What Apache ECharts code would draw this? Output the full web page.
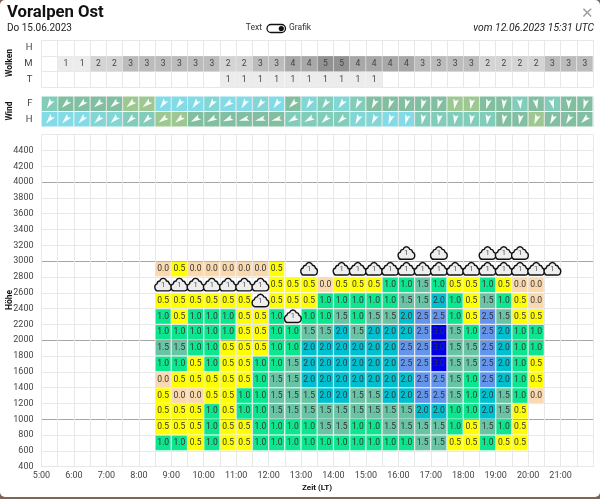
<!DOCTYPE html>
<html>
<head>
<meta charset="utf-8">
<title>Voralpen Ost</title>
<script src="https://cdn.jsdelivr.net/npm/echarts@6/dist/echarts.min.js"></script>
<style>
  html, body { margin: 0; padding: 0; background: #7d6455; }
  #chart { width: 600px; height: 497px; background: #fff; border-radius: 5px; overflow: hidden; }
</style>
</head>
<body>
<div id="chart"></div>
<script>
// half hour columns, column 0 starts at 5:00
const FONT = 'Roboto';
const cloudRowNames = ['H', 'M', 'T'];
const cloudH = [];
const cloudM = [0, 1, 1, 2, 2, 3, 3, 3, 3, 3, 3, 2, 2, 3, 3, 4, 4, 5, 5, 4, 4, 4, 4, 3, 3, 3, 3, 2, 2, 2, 2, 3, 3, 3];
const cloudT = [0, 0, 0, 0, 0, 0, 0, 0, 0, 0, 0, 1, 1, 1, 1, 1, 1, 1, 1, 1, 1, 0, 0, 0, 0, 0, 0, 0, 0, 0, 0, 0, 0, 0];
const cloudColors = { 1: '#ececec', 2: '#d4d4d4', 3: '#bcbcbc', 4: '#a8a8a8', 5: '#929292' };

const windRowNames = ['F', 'H'];
const windDirF = [210, 225, 228, 230, 228, 230, 230, 215, 215, 215, 215, 235, 210, 215, 215, 225, 210, 215, 215, 205, 205, 200, 195, 195, 195, 190, 190, 195, 185, 175, 170, 165, 180, 195];
const windDirH = [220, 222, 222, 225, 225, 225, 225, 235, 230, 240, 240, 245, 255, 255, 255, 240, 240, 225, 225, 205, 205, 200, 195, 190, 190, 188, 188, 188, 190, 190, 200, 205, 210, 225];
const windClassF = [2, 3, 3, 3, 3, 4, 4, 0, 0, 0, 1, 0, 0, 1, 0, 3, 1, 2, 1, 2, 3, 3, 3, 3, 3, 4, 4, 3, 3, 2, 3, 2, 3, 3];
const windClassH = [0, 0, 0, 1, 1, 2, 2, 4, 4, 3, 3, 3, 3, 3, 3, 2, 2, 2, 2, 1, 1, 0, 0, 2, 2, 2, 2, 2, 3, 3, 4, 3, 3, 3];
const windColors = ['#82dbe6', '#82d6d6', '#82ccba', '#82bea0', '#9ec892'];

// climb rates, first value is column 7 (8:30)
const firstCol = 7;
const cells2800 = [0, .5, 0, 0, 0, 0, 0, .5];
const cells2600 = [null, null, null, null, null, null, null, .5, .5, .5, 0, .5, .5, .5, 1, 1, 1.5, 1, .5, .5, 1, .5, 0, 0];
const cells2400 = [.5, .5, .5, .5, .5, .5, null, .5, .5, .5, 1, 1, 1, 1, 1, 1.5, 1.5, 2, 1, .5, 1.5, 1, .5, 0];
const cells2200 = [1, .5, 1, 1, 1, .5, .5, 1, null, 1, 1, 1.5, 1, 1.5, 1.5, 2, 2.5, 2.5, 1, .5, 2.5, 1.5, .5, .5];
const cells2000 = [1, 1, 1, 1, 1, .5, .5, 1, 1, 1.5, 1.5, 2, 1.5, 2, 2, 2, 2.5, 3, 1.5, 1, 2.5, 2, 1, 1];
const cells1800 = [1.5, 1.5, 1, 1, .5, .5, .5, 1, 1, 2, 2, 2, 2, 2, 2, 2.5, 2.5, 3, 1.5, 1.5, 2.5, 2, 1, 1];
const cells1600 = [1, 1, .5, 1, .5, .5, 1, 1, 1.5, 2, 2, 2, 2, 2, 2, 2.5, 2.5, 3, 1.5, 1.5, 2.5, 2, 1, .5];
const cells1400 = [0, .5, .5, .5, .5, .5, 1, 1.5, 1.5, 2, 2, 2, 2, 2, 2, 2, 2.5, 2.5, 1.5, 1, 2.5, 2, 1, .5];
const cells1200 = [.5, 0, 0, .5, .5, 1, 1, 1.5, 1.5, 1.5, 2, 2, 1.5, 1.5, 2, 2, 2.5, 2.5, 1.5, 1, 2, 1.5, 1, 0];
const cells1000 = [.5, .5, .5, 1, .5, 1, 1, 1.5, 1.5, 1.5, 1.5, 1.5, 1.5, 1.5, 1.5, 1.5, 2, 2, 1, 1, 2, 1.5, .5];
const cells800 = [.5, .5, .5, 1, .5, .5, 1, 1, 1, 1, 1.5, 1.5, 1, 1, 1.5, 1.5, 1.5, 1.5, 1, .5, 1.5, 1, .5];
const cells600 = [1, 1, .5, 1, .5, .5, 1, 1, 1, 1, 1, 1, 1, 1, 1, 1, 1.5, 1.5, .5, .5, 1, .5, .5];
const cellRows = { 2800: cells2800, 2600: cells2600, 2400: cells2400, 2200: cells2200, 2000: cells2000, 1800: cells1800, 1600: cells1600, 1400: cells1400, 1200: cells1200, 1000: cells1000, 800: cells800, 600: cells600 };
const cellColors = { 0: '#fbd9ae', 0.5: '#ffff00', 1: '#0ce68f', 1.5: '#68c4a4', 2: '#00c0d0', 2.5: '#6495ed', 3: '#0000e6' };

// cumulus symbols, [height, columns]
const cloud3000 = [22, 24, 27, 28, 29];
const cloud2800 = [16, 18, 19, 20, 21, 22, 23, 24, 25, 26, 27, 28, 29, 30, 31];
const cloud2600 = [7, 8, 9, 10, 11, 12, 13];
const cloud2400 = [13];
const cloud2200 = [15];
const cloudRows = { 3000: cloud3000, 2800: cloud2800, 2600: cloud2600, 2400: cloud2400, 2200: cloud2200 };

const colTime = c => 5 + c / 2;

const panelData = [];
[cloudH, cloudM, cloudT].forEach((row, r) => row.forEach((v, c) => { if (v) panelData.push([colTime(c), r, v]); }));
const windData = [];
[[windDirF, windClassF], [windDirH, windClassH]].forEach((w, r) => w[0].forEach((d, c) => windData.push([colTime(c), r, d, w[1][c]])));
const cellData = [];
Object.keys(cellRows).forEach(h => cellRows[h].forEach((v, i) => { if (v !== null) cellData.push([colTime(firstCol + i), +h, v]); }));
const symbolData = [];
Object.keys(cloudRows).forEach(h => cloudRows[h].forEach(c => symbolData.push([colTime(c), +h])));

const CLOUD_PATH = 'M5 17H19A4.2 4.2 0 0 0 20.5 8.8A4 4 0 0 0 16.6 5.6A5 5 0 0 0 7.4 5.6A4 4 0 0 0 3.5 8.8A4.2 4.2 0 0 0 5 17Z';
const ARROW = [[0, 7], [-3.4, -6], [0.2, -3.4], [3.7, -6]];

// rect spanning one half hour and one row
const cellBox = (api, t, y, h) => {
  const a = api.coord([t, y + h / 2]);
  const s = api.size([0.5, h]);
  return { cx: a[0] + s[0] / 2, cy: a[1], w: s[0], h: s[1] };
};

const renderCell = (params, api) => {
  const v = api.value(2);
  const b = cellBox(api, api.value(0), api.value(1), 200);
  return {
    type: 'group',
    children: [
      { type: 'rect', shape: { x: b.cx - b.w / 2 + 0.6, y: b.cy - b.h / 2 + 0.6, width: b.w - 1.2, height: b.h - 1.2 }, style: { fill: cellColors[v] } },
      { type: 'text', style: { x: b.cx, y: b.cy, text: v.toFixed(1), align: 'center', verticalAlign: 'middle', font: '8.5px ' + FONT, fill: '#333' } }
    ]
  };
};

const renderSymbol = (params, api) => {
  const b = cellBox(api, api.value(0), api.value(1), 200);
  return {
    type: 'group',
    children: [
      { type: 'path', shape: { pathData: CLOUD_PATH, x: b.cx - 8.3, y: b.cy - 6.5, width: 16.6, height: 12.5, layout: 'cover' }, style: { fill: '#eeeeee', stroke: '#111', lineWidth: 1.4 } },
      { type: 'text', style: { x: b.cx, y: b.cy, text: '1', align: 'center', verticalAlign: 'middle', font: '7.5px ' + FONT, fill: '#555' } }
    ]
  };
};

const bandBox = (api, t, r) => {
  const a = api.coord([t, r]);
  const s = api.size([0.5, 1]);
  return { cx: a[0] + s[0] / 2, cy: a[1], w: s[0], h: s[1] };
};

const renderPanel = (params, api) => {
  const b = bandBox(api, api.value(0), api.value(1));
  const v = api.value(2);
  return {
    type: 'group',
    children: [
      { type: 'rect', shape: { x: b.cx - b.w / 2 + 0.3, y: b.cy - b.h / 2 + 0.3, width: b.w - 0.6, height: b.h - 0.6 }, style: { fill: cloudColors[v] } },
      { type: 'text', style: { x: b.cx, y: b.cy, text: String(v), align: 'center', verticalAlign: 'middle', font: '8.5px ' + FONT, fill: '#444' } }
    ]
  };
};

const renderWind = (params, api) => {
  const b = bandBox(api, api.value(0), api.value(1));
  const a = api.value(2) * Math.PI / 180;
  // direction 180 = narrow end down
  const rot = a - Math.PI;
  const pts = ARROW.map(p => [
    b.cx + (p[0] * Math.cos(rot) - p[1] * Math.sin(rot)) * 0.8,
    b.cy + (p[0] * Math.sin(rot) + p[1] * Math.cos(rot)) * 0.8
  ]);
  return {
    type: 'group',
    children: [
      { type: 'rect', shape: { x: b.cx - b.w / 2 + 0.5, y: b.cy - b.h / 2 + 0.5, width: b.w - 1, height: b.h - 1 }, style: { fill: windColors[api.value(3)] } },
      { type: 'polygon', shape: { points: pts }, style: { fill: '#ffffff', opacity: 0.92 } }
    ]
  };
};

const gridLine = { show: true, lineStyle: { color: '#e8e8e8', width: 1 } };
const timeAxis = (gridIndex, withLabels) => ({
  type: 'value', gridIndex, min: 5, max: 22, interval: 0.5,
  axisLine: { show: false }, axisTick: { show: false },
  splitLine: gridLine,
  axisLabel: {
    show: withLabels, color: '#444', fontFamily: FONT, fontSize: 9, margin: 5,
    formatter: v => (v % 1 === 0 && v < 22 ? v + ':00' : '')
  }
});
const rowAxis = (gridIndex, names) => ({
  type: 'category', gridIndex, data: names, inverse: true,
  axisLine: { show: false }, axisTick: { show: false },
  splitLine: gridLine,
  axisLabel: { color: '#444', fontFamily: FONT, fontSize: 9.5, margin: 9 }
});

const sideText = (x, y, text) => ({
  type: 'text', x, y, rotation: Math.PI / 2,
  style: { text, align: 'center', verticalAlign: 'middle', font: 'bold 8.5px ' + FONT, fill: '#111' }
});
const headText = (x, y, text, font, align, fill) => ({
  type: 'text', x, y,
  style: { text, font: font + ' ' + FONT, align: align || 'left', verticalAlign: 'middle', fill: fill || '#111' }
});

const option = {
  animation: false,
  grid: [
    { left: 41.5, right: 7, top: 40, height: 47.5 },
    { left: 41.5, right: 7, top: 96, height: 31 },
    { left: 41.5, right: 7, top: 134.7, height: 332 }
  ],
  xAxis: [timeAxis(0, false), timeAxis(1, false), timeAxis(2, true)],
  yAxis: [
    rowAxis(0, cloudRowNames),
    Object.assign(rowAxis(1, windRowNames), { splitLine: { show: false } }),
    {
      type: 'value', gridIndex: 2, min: 400, max: 4600, interval: 200,
      axisLine: { show: false }, axisTick: { show: false },
      splitLine: { show: true, lineStyle: { color: ['#e8e8e8', '#e8e8e8', '#e8e8e8', '#a6a6a6', '#e8e8e8'], width: 1 } },
      axisLabel: { color: '#444', fontFamily: FONT, fontSize: 9, margin: 8, formatter: v => (v < 4600 ? String(v) : '') }
    }
  ],
  series: [
    { type: 'custom', xAxisIndex: 0, yAxisIndex: 0, data: panelData, renderItem: renderPanel, silent: true },
    { type: 'custom', xAxisIndex: 1, yAxisIndex: 1, data: windData, renderItem: renderWind, silent: true },
    { type: 'custom', xAxisIndex: 2, yAxisIndex: 2, data: cellData, renderItem: renderCell, silent: true },
    { type: 'custom', xAxisIndex: 2, yAxisIndex: 2, data: symbolData, renderItem: renderSymbol, silent: true, z: 5, clip: false }
  ],
  graphic: [
    headText(7, 12.5, 'Voralpen Ost', 'bold 16.7px'),
    headText(7, 28, 'Do 15.06.2023', '10px', 'left', '#222'),
    headText(262, 28, 'Text', '8.5px', 'right', '#333'),
    headText(289, 28, 'Grafik', '8.5px', 'left', '#333'),
    { type: 'rect', shape: { x: 267, y: 24.5, width: 18.5, height: 8, r: 4 }, style: { fill: '#fff', stroke: '#111', lineWidth: 1.3 } },
    { type: 'circle', shape: { cx: 281.3, cy: 28.5, r: 2.6 }, style: { fill: '#111' } },
    headText(594, 28, 'vom 12.06.2023 15:31 UTC', 'italic 10.3px', 'right', '#222'),
    headText(587, 14.5, '\u2715', '15px', 'center', '#a0a0a0'),
    sideText(10, 63, 'Wolken'),
    sideText(10, 111, 'Wind'),
    sideText(10, 300, 'H\u00f6he'),
    headText(317, 488, 'Zeit (LT)', 'bold 8px', 'center')
  ]
};

const chart = echarts.init(document.getElementById('chart'), null, { renderer: 'canvas' });
chart.setOption(option);
</script>
</body>
</html>
